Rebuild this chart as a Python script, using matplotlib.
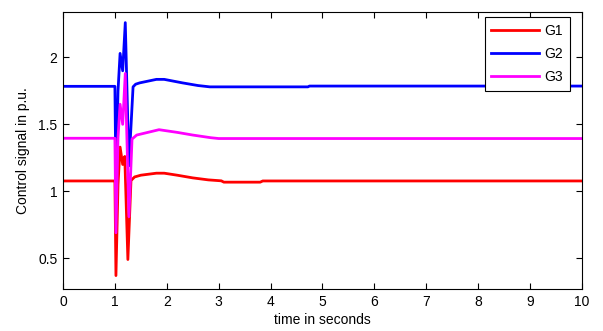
"""
Control signal of three generators after a disturbance at t = 1 s
"""

import matplotlib.pyplot as plt

plt.rcParams['font.family'] = ['Liberation Sans', 'DejaVu Sans']
plt.rcParams['font.size'] = 10

# G1 (red)
t_g1 = [0, 1.0, 1.02, 1.06, 1.10, 1.15, 1.19, 1.25, 1.31, 1.38, 1.50, 1.80, 1.95,
        2.20, 2.50, 2.80, 3.05, 3.10, 3.80, 3.85, 10]
v_g1 = [1.077, 1.077, 0.37, 1.05, 1.33, 1.20, 1.26, 0.49, 1.08, 1.107, 1.12, 1.135, 1.135,
        1.12, 1.10, 1.085, 1.078, 1.068, 1.068, 1.077, 1.077]

# G2 (blue)
t_g2 = [0, 1.0, 1.02, 1.06, 1.10, 1.15, 1.20, 1.27, 1.35, 1.40, 1.48, 1.80, 1.95,
        2.30, 2.60, 2.83, 4.72, 4.75, 10]
v_g2 = [1.784, 1.784, 1.05, 1.75, 2.03, 1.90, 2.26, 1.19, 1.78, 1.80, 1.81, 1.836, 1.836,
        1.81, 1.79, 1.78, 1.78, 1.786, 1.786]

# G3 (magenta)
t_g3 = [0, 1.0, 1.02, 1.06, 1.10, 1.15, 1.20, 1.27, 1.33, 1.42, 1.85, 2.20, 2.50,
        2.85, 3.00, 10]
v_g3 = [1.396, 1.396, 0.69, 1.40, 1.65, 1.50, 1.88, 0.81, 1.39, 1.42, 1.46, 1.44, 1.42,
        1.40, 1.394, 1.394]

x_ticks = list(range(0, 11))
y_ticks = [0.5, 1, 1.5, 2]

fig = plt.figure(figsize=(6.03, 3.31), dpi=100)
ax = fig.add_axes([0.1045, 0.127, 0.8605, 0.837])

ax.plot(t_g1, v_g1, color='#ff0000', linewidth=2, label='G1')
ax.plot(t_g2, v_g2, color='#0000ff', linewidth=2, label='G2')
ax.plot(t_g3, v_g3, color='#ff00ff', linewidth=2, label='G3')

ax.set_xlim(0, 10)
ax.set_ylim(0.27, 2.34)
ax.set_xticks(x_ticks)
ax.set_yticks(y_ticks)
ax.set_yticklabels(['0.5', '1', '1.5', '2'])
ax.tick_params(direction='in', top=True, right=True, length=4, width=0.8,
               labelsize=10, pad=4)
for sp in ax.spines.values():
    sp.set_linewidth(0.8)

ax.set_xlabel('time in seconds', fontsize=10, labelpad=3)
ax.set_ylabel('Control signal in p.u.', fontsize=10, labelpad=6)

leg = ax.legend(loc='upper right', bbox_to_anchor=(0.977, 0.982), borderaxespad=0,
                fancybox=False, framealpha=1, edgecolor='black', fontsize=10,
                handlelength=3.4, handletextpad=0.4, labelspacing=0.65,
                borderpad=0.5)
leg.get_frame().set_linewidth(0.8)

plt.savefig('out.png', dpi=100, facecolor='white')
plt.close()
